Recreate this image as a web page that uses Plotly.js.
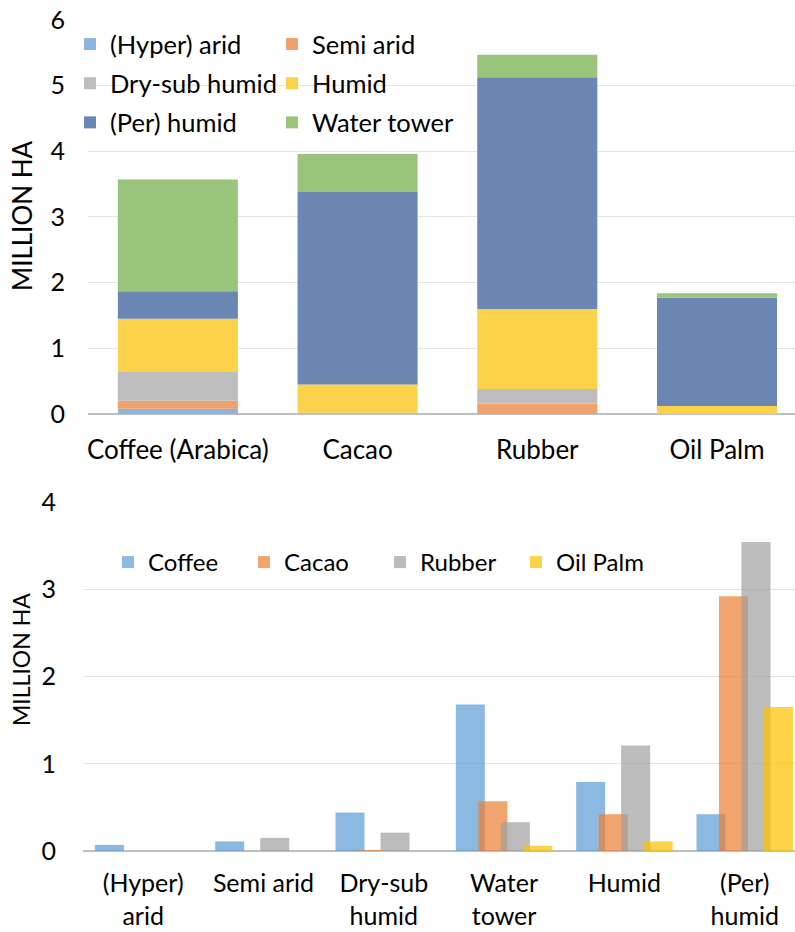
<!DOCTYPE html>
<html><head><meta charset="utf-8">
<script src="https://cdn.plot.ly/plotly-3.0.1.min.js"></script>
<style>body{margin:0;background:#fff}#chart{width:795px;height:932px}</style>
</head><body><div id="chart"></div>
<script>
// ---- Top chart: area by climate zone, stacked per crop ----
const crops = ['Coffee (Arabica)', 'Cacao', 'Rubber', 'Oil Palm'];
const hyperArid   = [0.08, 0.00, 0.00, 0.00];
const semiArid    = [0.12, 0.00, 0.16, 0.00];
const drySubHumid = [0.45, 0.02, 0.22, 0.00];
const humid       = [0.80, 0.43, 1.22, 0.12];
const perHumid    = [0.42, 2.93, 3.53, 1.65];
const waterTower  = [1.70, 0.58, 0.34, 0.07];
const zoneNames   = ['(Hyper) arid', 'Semi arid', 'Dry-sub humid', 'Humid', '(Per) humid', 'Water tower'];

// ---- Bottom chart: area per crop, grouped by climate zone ----
const zones      = ['(Hyper)<br>arid', 'Semi arid', 'Dry-sub<br>humid', 'Water<br>tower', 'Humid', '(Per)<br>humid'];
const coffee     = [0.07, 0.11, 0.44, 1.68, 0.79, 0.42];
const cacao      = [0.00, 0.00, 0.01, 0.57, 0.42, 2.92];
const rubber     = [0.00, 0.15, 0.21, 0.33, 1.21, 3.54];
const oilPalm    = [0.00, 0.00, 0.00, 0.06, 0.11, 1.65];
const cropNames  = ['Coffee', 'Cacao', 'Rubber', 'Oil Palm'];
const yTitle     = 'MILLION HA';

const topColors = ['#8CB6E0', '#F0A16C', '#BDBDBD', '#FBD24A', '#6A86B2', '#9AC47C'];
const botColors = ['rgba(91,155,213,0.7)', 'rgba(237,125,49,0.7)', 'rgba(160,160,160,0.7)', 'rgba(252,192,0,0.72)'];

const topSeries = [hyperArid, semiArid, drySubHumid, humid, perHumid, waterTower];
const legendFor = ['legend', 'legend2', 'legend', 'legend2', 'legend', 'legend2'];
const traces = [];
let cum = crops.map(() => 0);
topSeries.forEach((vals, i) => {
  traces.push({
    type: 'bar', x: crops, y: vals, base: cum.slice(), name: zoneNames[i],
    xaxis: 'x', yaxis: 'y', width: 0.668,
    marker: {color: topColors[i], line: {width: 0}},
    legend: legendFor[i], legendgroup: 'g' + i, hoverinfo: 'skip'
  });
  cum = cum.map((c, k) => c + vals[k]);
});

const botSeries = [coffee, cacao, rubber, oilPalm];
const offsets = [-0.401, -0.214, -0.027, 0.160];
botSeries.forEach((vals, i) => {
  traces.push({
    type: 'bar', x: zones, y: vals, name: cropNames[i],
    xaxis: 'x2', yaxis: 'y2', width: 0.241, offset: offsets[i],
    marker: {color: botColors[i], line: {width: 0}},
    legend: 'legend3', hoverinfo: 'skip'
  });
});

const F = 'Lato, sans-serif';
const gridColor = '#E4E4E4';
const layout = {
  width: 795, height: 932,
  margin: {l: 83, r: 0, t: 20, b: 81, autoexpand: false},
  paper_bgcolor: '#fff', plot_bgcolor: '#fff',
  barmode: 'overlay',
  font: {family: F, color: '#000'},
  showlegend: true,
  xaxis: {
    anchor: 'y', domain: [5 / 712, 1], type: 'category', categoryorder: 'array', categoryarray: crops,
    range: [-0.5, 3.434], showgrid: false, showline: false, ticks: '',
    tickfont: {family: F, size: 26, color: '#000'}, tickangle: 0, ticklabelstandoff: 18
  },
  yaxis: {
    anchor: 'x', domain: [0.5259, 1], range: [0, 6], dtick: 1, showgrid: true, gridcolor: gridColor, gridwidth: 1,
    zeroline: true, zerolinecolor: '#BFBFBF', zerolinewidth: 2, showline: false, ticks: '',
    tickfont: {family: F, size: 25, color: '#000'}, ticklabelstandoff: 22
  },
  xaxis2: {
    anchor: 'y2', domain: [0, 1], type: 'category', categoryorder: 'array', categoryarray: zones,
    range: [-0.5, 5.418], showgrid: false, showline: false, ticks: '',
    tickfont: {family: F, size: 25, color: '#000'}, tickangle: 0, ticklabelstandoff: 15
  },
  yaxis2: {
    anchor: 'x2', domain: [0, 0.42], range: [0, 4], dtick: 1, showgrid: true, gridcolor: gridColor, gridwidth: 1,
    zeroline: true, zerolinecolor: '#BFBFBF', zerolinewidth: 2, showline: false, ticks: '',
    tickfont: {family: F, size: 25, color: '#000'}, ticklabelstandoff: 26
  },
  annotations: [
    {text: yTitle, xref: 'paper', yref: 'paper', x: (22 - 83) / 712, y: (851 - 216) / 831,
     textangle: -90, showarrow: false, xanchor: 'center', yanchor: 'middle',
     font: {family: F, size: 26, color: '#000'}},
    {text: yTitle, xref: 'paper', yref: 'paper', x: (21 - 83) / 712, y: (851 - 660) / 831,
     textangle: -90, showarrow: false, xanchor: 'center', yanchor: 'middle',
     font: {family: F, size: 23, color: '#000'}}
  ],
  legend: {
    xref: 'container', yref: 'container', x: 70 / 795, y: 1 - 21 / 932, xanchor: 'left', yanchor: 'top',
    bgcolor: 'rgba(0,0,0,0)', font: {family: F, size: 25.5, color: '#000'},
    traceorder: 'grouped', tracegroupgap: 3, orientation: 'v'
  },
  legend2: {
    xref: 'container', yref: 'container', x: 272 / 795, y: 1 - 21 / 932, xanchor: 'left', yanchor: 'top',
    bgcolor: 'rgba(0,0,0,0)', font: {family: F, size: 25.5, color: '#000'},
    traceorder: 'grouped', tracegroupgap: 3, orientation: 'v'
  },
  legend3: {
    xref: 'container', yref: 'container', x: 108 / 795, y: 1 - 540 / 932, xanchor: 'left', yanchor: 'top',
    bgcolor: 'rgba(0,0,0,0)', font: {family: F, size: 24, color: '#000'},
    orientation: 'h', entrywidth: 91, entrywidthmode: 'pixels'
  }
};

Plotly.newPlot('chart', traces, layout, {displayModeBar: false, staticPlot: true});
</script>
</body></html>
